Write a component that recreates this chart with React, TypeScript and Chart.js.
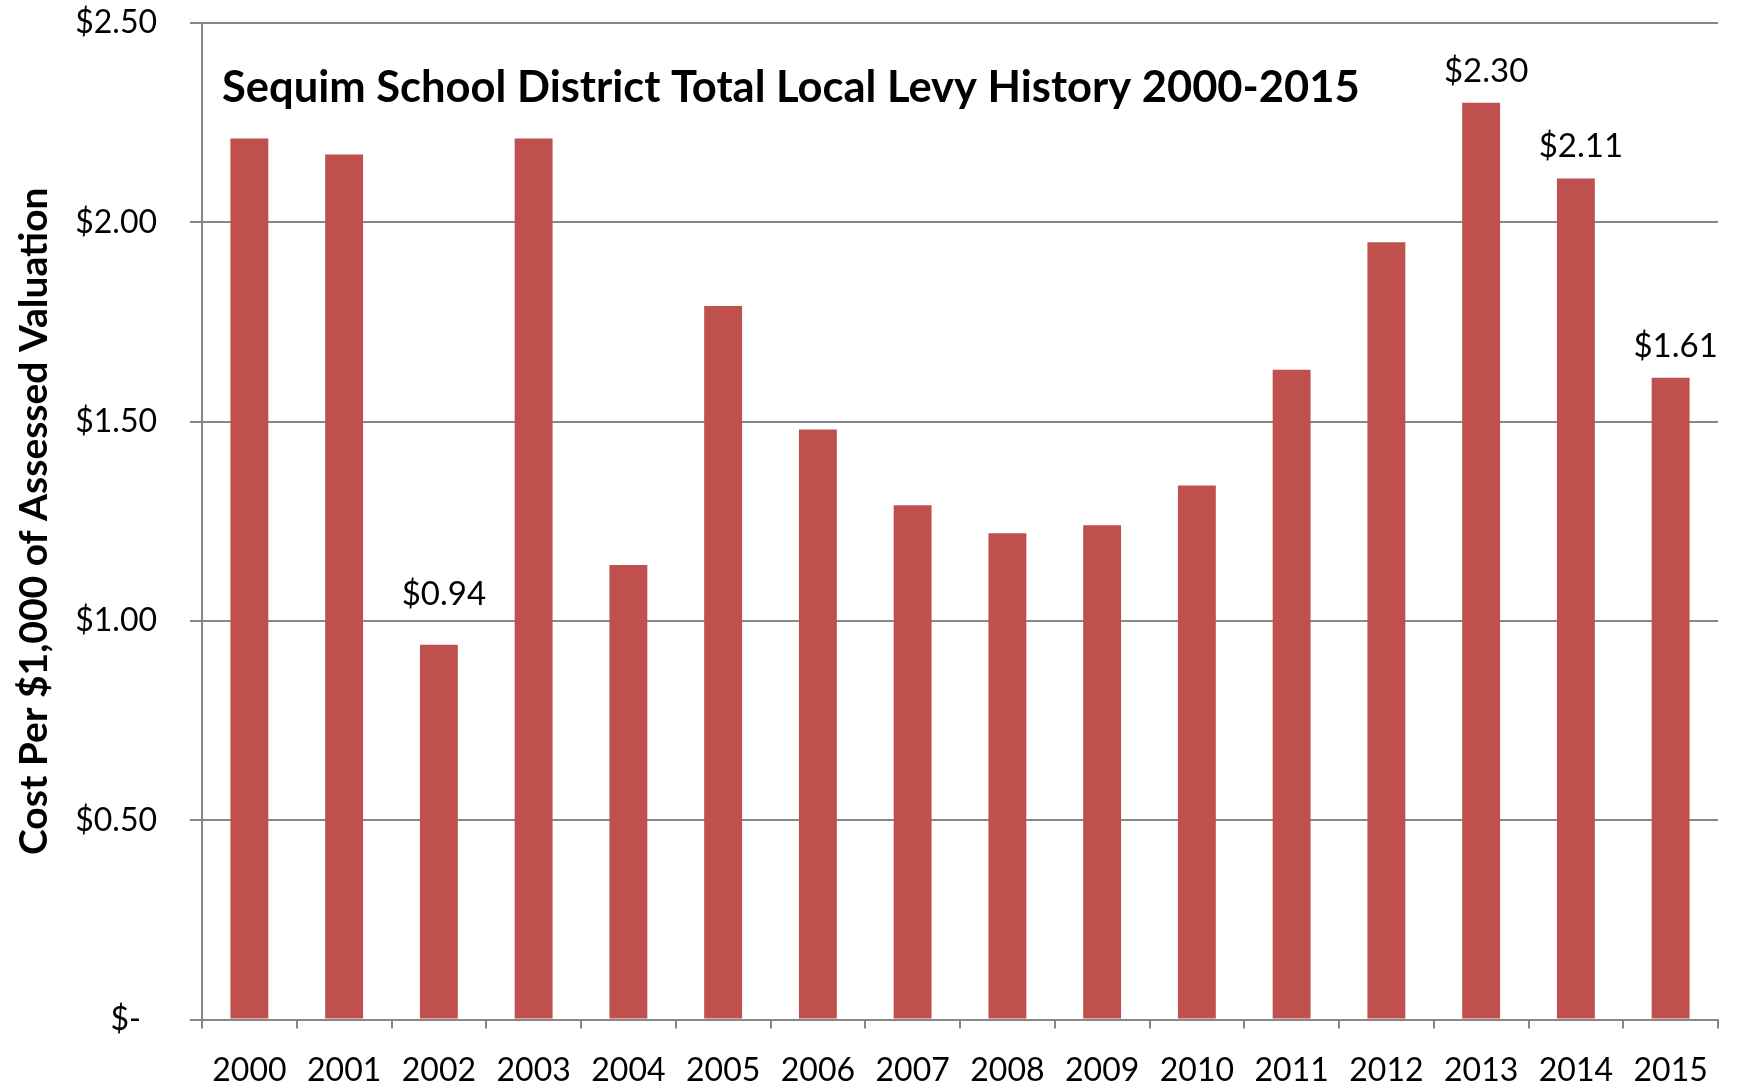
import React, { useEffect, useRef } from "react";
import { Chart, registerables } from "chart.js";

Chart.register(...registerables);

const years = ["2000", "2001", "2002", "2003", "2004", "2005", "2006", "2007", "2008", "2009", "2010", "2011", "2012", "2013", "2014", "2015"];
const levyRates = [2.21, 2.17, 0.94, 2.21, 1.14, 1.79, 1.48, 1.29, 1.22, 1.24, 1.34, 1.63, 1.95, 2.30, 2.11, 1.61];
const yTickLabels = ["$-", "$0.50", "$1.00", "$1.50", "$2.00", "$2.50"];
const labelledYears = ["2002", "2013", "2014", "2015"];
const chartTitle = "Sequim School District Total Local Levy History 2000-2015";
const yAxisTitle = "Cost Per $1,000 of Assessed Valuation";

const FONT = "Lato, 'Open Sans', sans-serif";
const GRID = "#878787";

export default function App() {
  const ref = useRef<HTMLCanvasElement | null>(null);

  useEffect(() => {
    if (!ref.current) return;

    const valueLabels = {
      id: "valueLabels",
      afterDatasetsDraw(chart: any) {
        const ctx = chart.ctx;
        const meta = chart.getDatasetMeta(0);
        ctx.save();
        ctx.font = `33px ${FONT}`;
        ctx.fillStyle = "#000";
        ctx.textAlign = "center";
        ctx.textBaseline = "alphabetic";
        labelledYears.forEach((yr) => {
          const i = years.indexOf(yr);
          const bar = meta.data[i];
          const gap = yr === "2002" ? 40 : 21;
          ctx.fillText("$" + levyRates[i].toFixed(2), bar.x + 5, bar.y - gap);
        });
        ctx.restore();
      },
    };

    const innerTitle = {
      id: "innerTitle",
      afterDraw(chart: any) {
        const ctx = chart.ctx;
        const a = chart.chartArea;
        ctx.save();
        ctx.font = `bold 43.5px ${FONT}`;
        ctx.fillStyle = "#000";
        ctx.textAlign = "left";
        ctx.textBaseline = "alphabetic";
        ctx.fillText(chartTitle, a.left + 20, a.top + 79);
        ctx.restore();
      },
    };

    const chart = new Chart(ref.current, {
      type: "bar",
      data: {
        labels: years,
        datasets: [
          {
            data: levyRates,
            backgroundColor: "#C0504D",
            borderWidth: 0,
            barPercentage: 0.4,
            categoryPercentage: 1,
          },
        ],
      },
      plugins: [valueLabels, innerTitle],
      options: {
        animation: false,
        responsive: false,
        devicePixelRatio: 1,
        layout: { padding: { top: 23, right: 19, left: 0, bottom: 0 } },
        plugins: {
          legend: { display: false },
          tooltip: { enabled: false },
          title: { display: false },
        },
        scales: {
          x: {
            grid: {
              display: true,
              drawOnChartArea: false,
              drawTicks: true,
              tickLength: 9,
              color: GRID,
              lineWidth: 2,
              offset: true,
            },
            border: { display: true, color: GRID, width: 2 },
            ticks: {
              color: "#000",
              font: { family: FONT, size: 32 },
              padding: 23,
              maxRotation: 0,
              autoSkip: false,
            },
            afterFit: (scale: any) => {
              scale.height = 67.5;
              scale.paddingLeft = 0;
              scale.paddingRight = 0;
            },
          },
          y: {
            min: 0,
            max: 2.5,
            grid: {
              color: GRID,
              lineWidth: 2,
              drawTicks: true,
              tickLength: 12,
            },
            border: { display: true, color: GRID, width: 2 },
            ticks: {
              stepSize: 0.5,
              color: "#000",
              font: { family: FONT, size: 32 },
              padding: 33,
              callback: (_v: any, index: number) => {
                const t = yTickLabels[index];
                return t === "$-" ? t + "\u2002" : t;
              },
            },
            title: {
              display: true,
              text: yAxisTitle,
              color: "#000",
              font: { family: FONT, size: 39, weight: "bold" },
              padding: { top: 11, bottom: 0 },
            },
            afterFit: (scale: any) => {
              scale.width = 202;
              scale.paddingTop = 0;
              scale.paddingBottom = 0;
            },
          },
        },
      },
    });

    return () => chart.destroy();
  }, []);

  return (
    <div style={{ position: "absolute", left: 0, top: 0, width: 1737, height: 1087, background: "#fff" }}>
      <canvas ref={ref} width={1737} height={1087} style={{ display: "block" }} />
    </div>
  );
}
